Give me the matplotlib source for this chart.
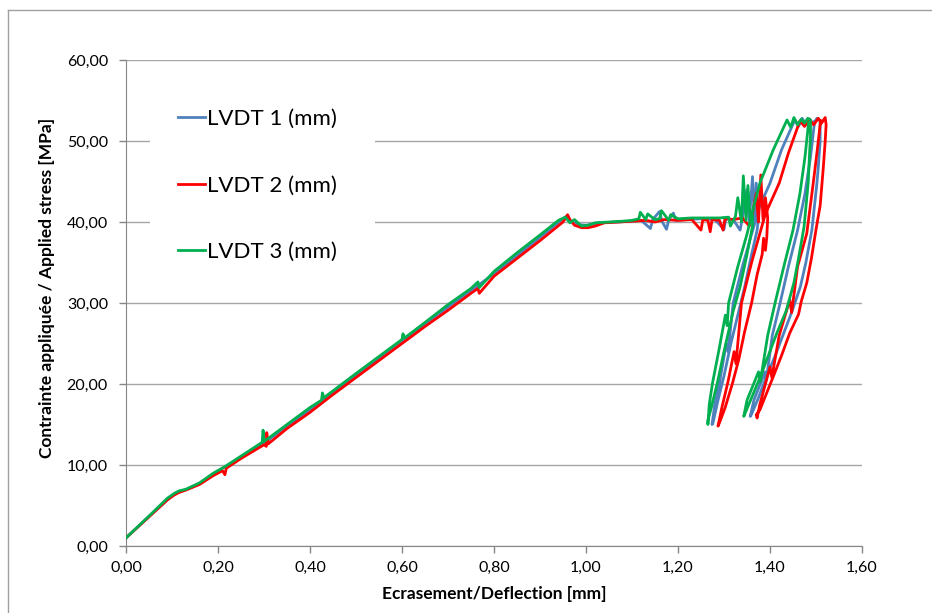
import numpy as np
import matplotlib.pyplot as plt
from matplotlib.lines import Line2D
from matplotlib.patches import Rectangle
from matplotlib.ticker import FuncFormatter

plt.rcParams['font.family'] = ['Lato', 'DejaVu Sans']

# readings (deflection mm, stress MPa) taken off the chart
# LVDT 1 - blue
lvdt1_load = [(0.000, 1.0), (0.050, 3.65), (0.100, 6.2), (0.115, 6.7), (0.130, 6.95), (0.160, 7.7),
              (0.210, 9.6), (0.250, 10.95), (0.300, 12.7), (0.350, 14.8), (0.400, 16.8), (0.450, 19.0),
              (0.500, 21.1), (0.600, 25.3), (0.700, 29.5), (0.800, 33.6), (0.900, 38.1), (0.950, 40.4),
              (0.960, 40.8)]
lvdt1_plateau = [(0.965, 40.2), (0.980, 39.7), (1.000, 39.6), (1.030, 39.9), (1.070, 40.0), (1.100, 40.1),
                 (1.120, 40.2), (1.140, 39.2), (1.145, 40.3), (1.160, 41.3), (1.165, 40.1), (1.175, 39.1),
                 (1.180, 40.3), (1.190, 41.1), (1.195, 40.2), (1.220, 40.3), (1.250, 40.4), (1.280, 40.3),
                 (1.300, 39.1), (1.304, 40.4), (1.320, 40.3), (1.335, 39.0), (1.340, 40.5), (1.350, 44.0),
                 (1.355, 40.1), (1.362, 45.6), (1.366, 40.3), (1.370, 44.8), (1.375, 40.5)]
lvdt1_unload_l = [(1.372, 39.0), (1.360, 36.0), (1.345, 32.0), (1.330, 28.5), (1.315, 25.0),
                  (1.300, 21.0), (1.287, 18.0), (1.276, 15.2)]
lvdt1_reload_l = [(1.274, 15.0), (1.280, 17.5), (1.290, 20.1), (1.305, 25.0), (1.309, 24.0),
                  (1.320, 30.0), (1.340, 34.5), (1.360, 38.5), (1.378, 42.0), (1.400, 44.8),
                  (1.425, 48.9), (1.454, 52.6)]
lvdt1_top = [(1.462, 51.8), (1.470, 52.8), (1.478, 52.0), (1.486, 52.7), (1.494, 52.1), (1.502, 52.8),
             (1.509, 52.5)]
lvdt1_unload_r = [(1.509, 50.0), (1.505, 46.8), (1.502, 44.8), (1.491, 39.0), (1.478, 35.0),
                  (1.466, 32.0), (1.448, 29.0), (1.428, 26.0), (1.410, 23.3), (1.392, 20.9),
                  (1.375, 18.3), (1.360, 16.3)]
lvdt1_reload_r = [(1.357, 16.0), (1.365, 18.0), (1.389, 21.5), (1.392, 20.5), (1.405, 26.0),
                  (1.422, 30.0), (1.440, 34.5), (1.460, 39.0), (1.476, 43.5), (1.488, 48.0),
                  (1.497, 52.4)]

# LVDT 2 - red
lvdt2_load = [(0.000, 1.0), (0.050, 3.6), (0.090, 5.7), (0.105, 6.3), (0.115, 6.6), (0.130, 6.9),
              (0.160, 7.6), (0.190, 8.7), (0.210, 9.3), (0.215, 8.8), (0.218, 9.6), (0.250, 10.8),
              (0.300, 12.5), (0.305, 12.3), (0.306, 14.0), (0.309, 12.6), (0.350, 14.5), (0.400, 16.5),
              (0.450, 18.7), (0.500, 20.8), (0.550, 22.9), (0.600, 25.0), (0.650, 27.1), (0.700, 29.1),
              (0.750, 31.2), (0.765, 31.8), (0.768, 31.2), (0.800, 33.3), (0.850, 35.5), (0.900, 37.7),
              (0.950, 40.0), (0.960, 40.9), (0.965, 40.3)]
lvdt2_plateau = [(0.975, 39.6), (0.990, 39.3), (1.005, 39.3), (1.020, 39.5), (1.040, 39.9),
                 (1.070, 40.0), (1.100, 40.1), (1.130, 40.2), (1.150, 40.0), (1.170, 40.3), (1.200, 40.2),
                 (1.230, 40.3), (1.250, 39.0), (1.254, 40.3), (1.265, 40.2), (1.270, 38.8), (1.274, 40.3),
                 (1.290, 40.2), (1.298, 39.0), (1.302, 40.4), (1.320, 40.3), (1.340, 40.5), (1.355, 39.5),
                 (1.360, 40.6), (1.370, 43.5), (1.375, 40.0), (1.380, 45.8), (1.385, 40.2), (1.390, 43.0),
                 (1.395, 40.5)]
lvdt2_unload_l = [(1.393, 38.1), (1.390, 36.5), (1.386, 38.0), (1.383, 36.0), (1.372, 33.5),
                  (1.360, 30.0), (1.345, 26.5), (1.332, 23.0), (1.318, 20.0), (1.302, 17.0),
                  (1.290, 15.2)]
lvdt2_reload_l = [(1.287, 14.8), (1.295, 17.0), (1.308, 20.1), (1.322, 24.0), (1.326, 22.5),
                  (1.338, 30.0), (1.360, 35.0), (1.390, 41.0), (1.420, 44.8), (1.440, 48.5),
                  (1.465, 52.5)]
lvdt2_top = [(1.475, 51.8), (1.485, 52.7), (1.495, 52.0), (1.505, 52.8), (1.512, 52.2), (1.520, 52.9),
             (1.522, 52.0)]
lvdt2_unload_r = [(1.520, 50.0), (1.516, 46.8), (1.509, 42.0), (1.501, 39.4), (1.490, 35.5),
                  (1.480, 32.5), (1.468, 30.2), (1.462, 28.6), (1.443, 26.3), (1.425, 23.5),
                  (1.407, 20.9), (1.390, 18.5), (1.378, 16.8), (1.370, 16.2)]
lvdt2_reload_r = [(1.372, 15.8), (1.378, 17.5), (1.400, 22.1), (1.404, 20.8), (1.420, 26.0),
                  (1.443, 30.4), (1.447, 28.8), (1.460, 34.5), (1.480, 38.6), (1.494, 44.8),
                  (1.502, 48.5), (1.510, 52.5)]

# LVDT 3 - green
lvdt3_load = [(0.000, 1.0), (0.050, 3.7), (0.090, 5.9), (0.105, 6.5), (0.115, 6.8), (0.130, 7.0),
              (0.160, 7.8), (0.190, 9.0), (0.215, 9.8), (0.250, 11.1), (0.296, 12.8), (0.298, 14.3),
              (0.300, 12.9), (0.350, 15.0), (0.400, 17.1), (0.425, 18.0), (0.427, 18.9), (0.430, 18.3),
              (0.500, 21.3), (0.550, 23.4), (0.600, 25.5), (0.602, 26.2), (0.606, 25.7), (0.650, 27.6),
              (0.700, 29.8), (0.750, 31.8), (0.765, 32.6), (0.768, 31.9), (0.800, 33.9), (0.850, 36.2),
              (0.900, 38.4), (0.940, 40.2), (0.955, 40.6)]
lvdt3_plateau = [(0.965, 39.9), (0.975, 40.3), (0.990, 39.5), (1.005, 39.6), (1.020, 39.9),
                 (1.050, 40.0), (1.080, 40.1), (1.100, 40.2), (1.115, 40.4), (1.118, 41.2), (1.130, 40.3),
                 (1.134, 41.0), (1.150, 40.3), (1.160, 40.4), (1.164, 41.4), (1.180, 40.2), (1.184, 40.9),
                 (1.200, 40.4), (1.230, 40.5), (1.260, 40.5), (1.290, 40.5), (1.310, 40.6), (1.314, 39.5),
                 (1.325, 40.7), (1.330, 43.0), (1.338, 40.0), (1.342, 45.7), (1.348, 40.2), (1.352, 44.5),
                 (1.357, 40.3), (1.362, 40.8)]
lvdt3_unload_l = [(1.362, 39.5), (1.350, 36.0), (1.335, 32.0), (1.320, 29.0), (1.300, 24.0),
                  (1.285, 20.0), (1.272, 17.0), (1.265, 15.5)]
lvdt3_reload_l = [(1.265, 15.0), (1.268, 17.5), (1.275, 20.1), (1.290, 24.5), (1.303, 28.5),
                  (1.307, 27.2), (1.310, 30.0), (1.330, 34.5), (1.350, 38.5), (1.365, 42.0),
                  (1.378, 44.8), (1.407, 48.9), (1.437, 52.6)]
lvdt3_top = [(1.445, 51.7), (1.452, 52.9), (1.460, 52.0), (1.468, 52.7), (1.475, 52.2), (1.482, 52.8),
             (1.488, 52.6)]
lvdt3_unload_r = [(1.488, 50.5), (1.486, 48.5), (1.483, 44.8), (1.474, 39.4), (1.462, 35.5),
                  (1.452, 32.5), (1.435, 29.0), (1.415, 26.3), (1.395, 23.3), (1.379, 20.9),
                  (1.360, 18.3), (1.346, 16.4)]
lvdt3_reload_r = [(1.343, 16.0), (1.350, 18.0), (1.375, 21.5), (1.379, 20.3), (1.395, 26.0),
                  (1.411, 30.0), (1.430, 34.5), (1.450, 39.0), (1.465, 43.5), (1.476, 48.0),
                  (1.484, 52.3)]

series_names = ['LVDT 1 (mm)', 'LVDT 2 (mm)', 'LVDT 3 (mm)']
series_colors = ['#4F81BD', '#FF0000', '#00B050']
series_points = [
    lvdt1_load + lvdt1_plateau + lvdt1_unload_l + lvdt1_reload_l + lvdt1_top + lvdt1_unload_r + lvdt1_reload_r,
    lvdt2_load + lvdt2_plateau + lvdt2_unload_l + lvdt2_reload_l + lvdt2_top + lvdt2_unload_r + lvdt2_reload_r,
    lvdt3_load + lvdt3_plateau + lvdt3_unload_l + lvdt3_reload_l + lvdt3_top + lvdt3_unload_r + lvdt3_reload_r,
]

x_ticks = [0.0, 0.2, 0.4, 0.6, 0.8, 1.0, 1.2, 1.4, 1.6]
y_ticks = [0, 10, 20, 30, 40, 50, 60]

fig = plt.figure(figsize=(9.32, 6.13), dpi=100)
ax = fig.add_axes([126 / 932, 1 - 546 / 613, 736 / 932, 486 / 613])

for pts, name, col in zip(series_points, series_names, series_colors):
    xs, ys = zip(*pts)
    ax.plot(xs, ys, color=col, lw=2, label=name, zorder=3, solid_joinstyle='round')

ax.set_xlim(0, 1.6)
ax.set_ylim(0, 60)
ax.set_xticks(x_ticks)
ax.set_yticks(y_ticks)
fmt = FuncFormatter(lambda v, p: f"{v:.2f}".replace('.', ','))
ax.xaxis.set_major_formatter(fmt)
ax.yaxis.set_major_formatter(fmt)
ax.tick_params(axis='both', direction='out', length=5, width=1, color='#868686',
               labelsize=11.5, labelcolor='black')
ax.tick_params(axis='x', pad=6)
ax.tick_params(axis='y', pad=8)

ax.grid(axis='y', color='#A6A6A6', lw=1)
ax.set_axisbelow(True)
for s in ['top', 'right']:
    ax.spines[s].set_visible(False)
for s in ['left', 'bottom']:
    ax.spines[s].set_color('#868686')

# white block behind the legend (hides gridlines like in Excel)
ax.add_patch(Rectangle((24 / 736, 266 / 486), 225 / 736, 190 / 486, transform=ax.transAxes,
                       facecolor='white', edgecolor='none', zorder=1))
leg = ax.legend(loc='upper left', bbox_to_anchor=(43 / 736, 1 - 40 / 486), frameon=False,
                fontsize=16, handlelength=1.2, handletextpad=0.1, labelspacing=2.1,
                borderaxespad=0)
for h in leg.get_lines():
    h.set_linewidth(2)

fig.text(494 / 932, 1 - 594 / 613, 'Ecrasement/Deflection [mm]', ha='center', va='center',
         fontsize=12.5, fontweight='bold')
fig.text(47 / 932, 1 - 288 / 613, 'Contrainte appliquée / Applied stress [MPa]', ha='center',
         va='center', rotation=90, fontsize=12.5, fontweight='bold')

# chart area border
fig.add_artist(Line2D([8 / 932, 1], [1 - 10 / 613, 1 - 10 / 613], transform=fig.transFigure,
                      color='#A0A0A0', lw=1))
fig.add_artist(Line2D([8 / 932, 8 / 932], [0, 1 - 10 / 613], transform=fig.transFigure,
                      color='#A0A0A0', lw=1))

plt.savefig("out.png", dpi=100)
